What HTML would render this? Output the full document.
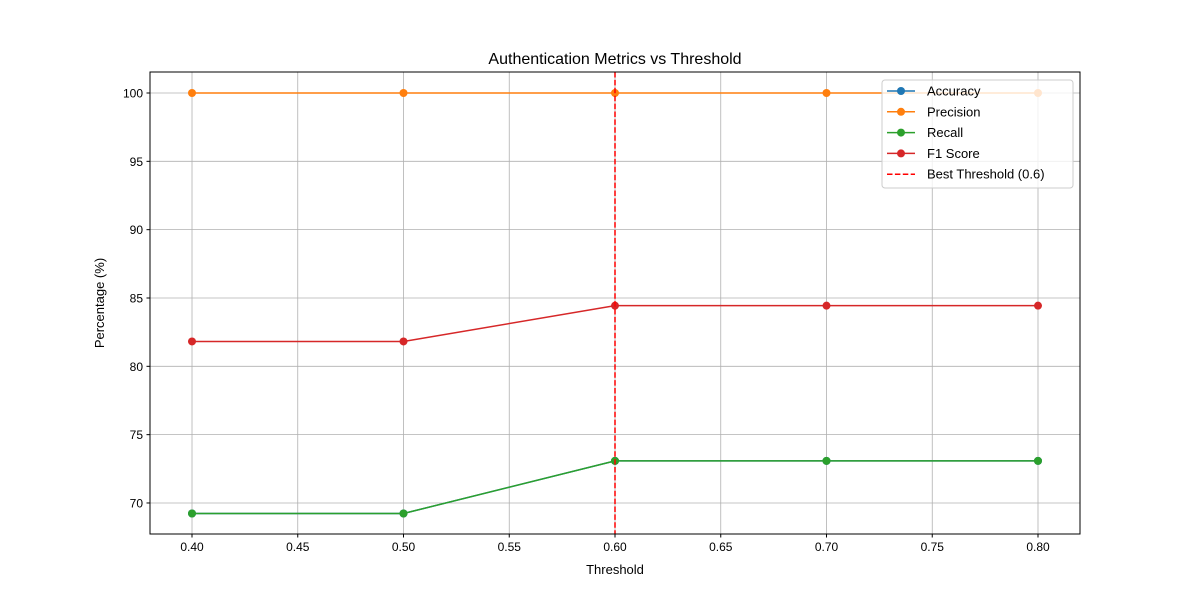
<!DOCTYPE html>
<html><head><meta charset="utf-8"><style>
body{margin:0;background:#fff}
svg{font-family:"Liberation Sans","DejaVu Sans",sans-serif}
</style></head><body>
<svg id="chart" width="1200" height="600">
<rect width="1200" height="600" fill="#fff"/>
<g id="grid"></g>
<g id="series"></g>
<rect x="150" y="72" width="930" height="462" fill="none" stroke="#000" stroke-width="1"/>
<g id="ticks"></g>
<text x="615" y="64" font-size="16" text-anchor="middle">Authentication Metrics vs Threshold</text>
<text x="615" y="574" font-size="13" text-anchor="middle">Threshold</text>
<text x="104" y="303" font-size="13" text-anchor="middle" transform="rotate(-90 104 303)">Percentage (%)</text>
<g id="legend"></g>
</svg>
<script>
const thresholds = [0.4, 0.5, 0.6, 0.7, 0.8];
const accuracy = [69.23, 69.23, 73.08, 73.08, 73.08];
const precision = [100, 100, 100, 100, 100];
const recall = [69.23, 69.23, 73.08, 73.08, 73.08];
const f1 = [81.82, 81.82, 84.44, 84.44, 84.44];
const bestThreshold = 0.6;
const xTicks = [0.40, 0.45, 0.50, 0.55, 0.60, 0.65, 0.70, 0.75, 0.80];
const yTicks = [70, 75, 80, 85, 90, 95, 100];
const seriesNames = ["Accuracy", "Precision", "Recall", "F1 Score"];

const NS = "http://www.w3.org/2000/svg";
const L = 150, R = 1080, T = 72, B = 534;
const xMin = 0.38014, xMax = 0.81986, yMin = 67.73, yMax = 101.537;
const X = v => L + (v - xMin) / (xMax - xMin) * (R - L);
const Y = v => B - (v - yMin) / (yMax - yMin) * (B - T);
function mk(tag, attrs, parent) {
  const e = document.createElementNS(NS, tag);
  for (const k in attrs) e.setAttribute(k, attrs[k]);
  parent.appendChild(e);
  return e;
}
const grid = document.getElementById('grid'), ticks = document.getElementById('ticks');
xTicks.forEach(t => {
  const x = X(t);
  const g = mk('line', {x1: x, x2: x, y1: T, y2: B, stroke: '#b0b0b0', 'stroke-width': 0.8}, grid);
  
  
  const tk = mk('line', {x1: x, x2: x, y1: B, y2: B + 3.5, stroke: '#000'}, ticks);
  
  
  const lb = mk('text', {x: x, y: B + 17, 'font-size': 12, 'text-anchor': 'middle'}, ticks);
  lb.textContent = t.toFixed(2);
  
  
});
yTicks.forEach(t => {
  const y = Y(t);
  const g = mk('line', {x1: L, x2: R, y1: y, y2: y, stroke: '#b0b0b0', 'stroke-width': 0.8}, grid);
  
  
  const tk = mk('line', {x1: L - 3.5, x2: L, y1: y, y2: y, stroke: '#000'}, ticks);
  
  
  const lb = mk('text', {x: L - 7, y: y + 4.5, 'font-size': 12, 'text-anchor': 'end'}, ticks);
  lb.textContent = t;
  
  
});
const sg = document.getElementById('series');
const colors = ['#1f77b4', '#ff7f0e', '#2ca02c', '#d62728'];
[accuracy, precision, recall, f1].forEach((vals, i) => {
  const g = mk('g', {}, sg);
  
  
  const pl = mk('polyline', {points: vals.map((v, j) => X(thresholds[j]) + ',' + Y(v)).join(' '), fill: 'none', stroke: colors[i], 'stroke-width': 1.5}, g);
  
  
  vals.forEach((v, j) => {
    const c = mk('circle', {cx: X(thresholds[j]), cy: Y(v), r: 4, fill: colors[i]}, g);
    
    
  });
});
const bl = mk('line', {x1: X(bestThreshold), x2: X(bestThreshold), y1: T, y2: B, stroke: '#ff0000', 'stroke-width': 1.5, 'stroke-dasharray': '5.5,2.4'}, sg);



const lg = document.getElementById('legend');
const box = mk('rect', {x: 882, y: 80, width: 191, height: 108, rx: 3, fill: '#fff', 'fill-opacity': 0.8, stroke: '#ccc'}, lg);


const labels = seriesNames.concat(['Best Threshold (' + bestThreshold + ')']);
labels.forEach((name, i) => {
  const y = 91 + i * 20.8;
  const g = mk('g', {}, lg);
  
  
  const isBest = i === 4;
  const col = isBest ? '#ff0000' : colors[i];
  const ln = mk('line', {x1: 887, x2: 915, y1: y, y2: y, stroke: col, 'stroke-width': 1.5}, g);
  if (isBest) ln.setAttribute('stroke-dasharray', '5.5,2.4');
  
  
  if (!isBest) {
    const c = mk('circle', {cx: 901, cy: y, r: 4, fill: col}, g);
    
    
  }
  const t = mk('text', {x: 927, y: y + 4.5, 'font-size': 13}, g);
  t.textContent = name;
  
  
});
</script>
</body></html>
